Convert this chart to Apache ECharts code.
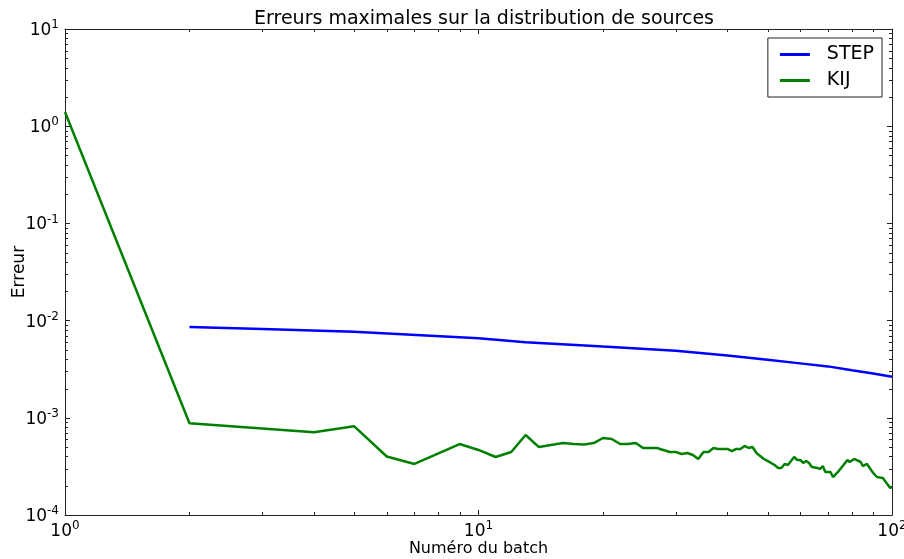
<!DOCTYPE html>
<html>
<head>
<meta charset="utf-8">
<title>Erreurs maximales</title>
<script src="https://cdn.jsdelivr.net/npm/echarts@6/dist/echarts.min.js"></script>
<style>
	html, body { margin: 0; padding: 0; background: #fff; }
	#chart { width: 904px; height: 559px; }
</style>
</head>
<body>
<div id="chart"></div>
<script>
	// STEP : erreur max par batch
	var stepX = [2, 3, 5, 10, 13, 20, 30, 40, 50, 60, 70, 80, 90, 100];
	var stepY = [8.6e-3, 8.2e-3, 7.7e-3, 6.6e-3, 6.0e-3, 5.4e-3, 4.9e-3, 4.37e-3, 3.95e-3, 3.63e-3, 3.38e-3, 3.09e-3, 2.86e-3, 2.65e-3];

	// KIJ
	var kijX = [1, 2, 4, 5, 6, 7, 9, 10, 11, 12, 13, 14, 16, 17, 18, 19, 20, 21, 22, 23, 24, 25, 26, 27, 29, 30,
		31, 32, 33, 34, 35, 36, 37, 38, 40, 41, 42, 43, 44, 45, 46, 47, 49, 50, 52, 53, 54, 55, 56, 58, 59, 60,
		61, 62, 63, 64, 66, 67, 68, 69, 71, 72, 74, 76, 78, 79, 81, 84, 85, 87, 88, 90, 92, 95, 97, 99, 100];
	var kijY = [1.4, 8.8e-4, 7.1e-4, 8.2e-4, 4.0e-4, 3.35e-4, 5.37e-4, 4.67e-4, 3.95e-4, 4.45e-4, 6.65e-4, 5.0e-4, 5.5e-4, 5.37e-4, 5.3e-4, 5.5e-4, 6.2e-4, 6.05e-4, 5.37e-4, 5.37e-4, 5.5e-4, 4.89e-4, 4.89e-4, 4.89e-4, 4.45e-4, 4.45e-4,
		4.24e-4, 4.34e-4, 4.14e-4, 3.77e-4, 4.45e-4, 4.45e-4, 4.89e-4, 4.78e-4, 4.78e-4, 4.55e-4, 4.78e-4, 4.78e-4, 5.13e-4, 4.89e-4, 5.01e-4, 4.34e-4, 3.77e-4, 3.6e-4, 3.27e-4, 3.05e-4, 3.05e-4, 3.35e-4, 3.27e-4, 3.95e-4, 3.68e-4, 3.68e-4,
		3.43e-4, 3.6e-4, 3.43e-4, 3.12e-4, 3.05e-4, 2.97e-4, 3.19e-4, 2.77e-4, 2.77e-4, 2.46e-4, 2.77e-4, 3.19e-4, 3.68e-4, 3.51e-4, 3.77e-4, 3.51e-4, 3.19e-4, 3.35e-4, 3.12e-4, 2.71e-4, 2.46e-4, 2.4e-4, 2.13e-4, 1.9e-4, 1.94e-4];

	// graduations secondaires
	var xMinorTicks = [2, 3, 4, 5, 6, 7, 8, 9, 20, 30, 40, 50, 60, 70, 80, 90];
	var yMinorTicks = [2e-4, 3e-4, 4e-4, 5e-4, 6e-4, 7e-4, 8e-4, 9e-4,
		2e-3, 3e-3, 4e-3, 5e-3, 6e-3, 7e-3, 8e-3, 9e-3,
		2e-2, 3e-2, 4e-2, 5e-2, 6e-2, 7e-2, 8e-2, 9e-2,
		0.2, 0.3, 0.4, 0.5, 0.6, 0.7, 0.8, 0.9,
		2, 3, 4, 5, 6, 7, 8, 9];

	var FONT = 'DejaVu Sans';
	var AXIS_COLOR = '#222';

	function zip(xs, ys) {
		var out = [];
		for (var i = 0; i < xs.length; i++) {
			out.push([xs[i], ys[i]]);
		}
		return out;
	}

	function powLabel(v) {
		var e = Math.round(Math.log(v) / Math.LN10);
		return '{b|10}{s|' + e + '}';
	}

	var labelRich = {
		b: { fontFamily: FONT, fontSize: 17, color: '#000', verticalAlign: 'bottom' },
		s: { fontFamily: FONT, fontSize: 12, color: '#000', verticalAlign: 'bottom', padding: [0, 0, 8, 0] }
	};

	function baseAxis(extra) {
		var ax = {
			type: 'log',
			logBase: 10,
			axisLine: { show: true, lineStyle: { color: AXIS_COLOR, width: 1 } },
			axisTick: { show: true, inside: true, length: 5, lineStyle: { color: AXIS_COLOR } },
			splitLine: { show: false },
			axisLabel: { show: false }
		};
		for (var k in extra) ax[k] = extra[k];
		return ax;
	}

	function minorTickItem(isX) {
		return function(params, api) {
			var p = api.coord([api.value(0), api.value(1)]);
			var cs = params.coordSys;
			var len = 3;
			var style = { stroke: AXIS_COLOR, lineWidth: 1 };
			var lines;
			if (isX) {
				var x = Math.round(p[0]) + 0.5;
				lines = [
					{ type: 'line', shape: { x1: x, y1: cs.y + cs.height, x2: x, y2: cs.y + cs.height - len }, style: style },
					{ type: 'line', shape: { x1: x, y1: cs.y, x2: x, y2: cs.y + len }, style: style }
				];
			} else {
				var y = Math.round(p[1]) + 0.5;
				lines = [
					{ type: 'line', shape: { x1: cs.x, y1: y, x2: cs.x + len, y2: y }, style: style },
					{ type: 'line', shape: { x1: cs.x + cs.width, y1: y, x2: cs.x + cs.width - len, y2: y }, style: style }
				];
			}
			return { type: 'group', children: lines };
		};
	}

	var xMinorData = [];
	for (var i = 0; i < xMinorTicks.length; i++) xMinorData.push([xMinorTicks[i], 1]);
	var yMinorData = [];
	for (var j = 0; j < yMinorTicks.length; j++) yMinorData.push([10, yMinorTicks[j]]);

	var myChart = echarts.init(document.getElementById('chart'), null, { renderer: 'canvas' });

	var option = {
		animation: false,
		backgroundColor: '#fff',
		title: {
			text: 'Erreurs maximales sur la distribution de sources',
			left: 479,
			top: 5,
			textAlign: 'center',
			textStyle: { fontFamily: FONT, fontSize: 19, fontWeight: 'normal', color: '#000' }
		},
		legend: {
			data: ['STEP', 'KIJ'],
			orient: 'vertical',
			right: 22,
			top: 38,
			padding: [7, 8, 7, 12],
			itemGap: 7,
			itemWidth: 30,
			itemHeight: 3,
			icon: 'rect',
			borderColor: AXIS_COLOR,
			borderWidth: 1,
			textStyle: { fontFamily: FONT, fontSize: 19, color: '#000', padding: [0, 0, 0, 12] }
		},
		grid: {
			left: 65,
			right: 12,
			top: 29,
			bottom: 44,
			containLabel: false,
			outerBoundsMode: 'none'
		},
		xAxis: [
			baseAxis({
				position: 'bottom',
				min: 1,
				max: 100,
				name: 'Numéro du batch',
				nameLocation: 'middle',
				nameGap: 26,
				nameMoveOverlap: false,
				nameTextStyle: { fontFamily: FONT, fontSize: 16, color: '#000' },
				axisLabel: { show: true, margin: 5, formatter: powLabel, rich: labelRich }
			}),
			baseAxis({ position: 'top', min: 1, max: 100 })
		],
		yAxis: [
			baseAxis({
				position: 'left',
				min: 1e-4,
				max: 10,
				name: 'Erreur',
				nameLocation: 'middle',
				nameRotate: 90,
				nameGap: 37,
				nameMoveOverlap: false,
				nameTextStyle: { fontFamily: FONT, fontSize: 17, color: '#000' },
				axisLabel: { show: true, margin: 6, formatter: powLabel, rich: labelRich }
			}),
			baseAxis({ position: 'right', min: 1e-4, max: 10 })
		],
		series: [
			{
				name: 'STEP',
				type: 'line',
				symbol: 'none',
				color: '#0000ff',
				lineStyle: { width: 2.5, color: '#0000ff' },
				data: zip(stepX, stepY)
			},
			{
				name: 'KIJ',
				type: 'line',
				symbol: 'none',
				color: '#008000',
				lineStyle: { width: 2.5, color: '#008000' },
				data: zip(kijX, kijY)
			},
			{
				type: 'custom',
				silent: true,
				clip: false,
				renderItem: minorTickItem(true),
				data: xMinorData
			},
			{
				type: 'custom',
				silent: true,
				clip: false,
				renderItem: minorTickItem(false),
				data: yMinorData
			}
		]
	};

	myChart.setOption(option);
</script>
</body>
</html>
